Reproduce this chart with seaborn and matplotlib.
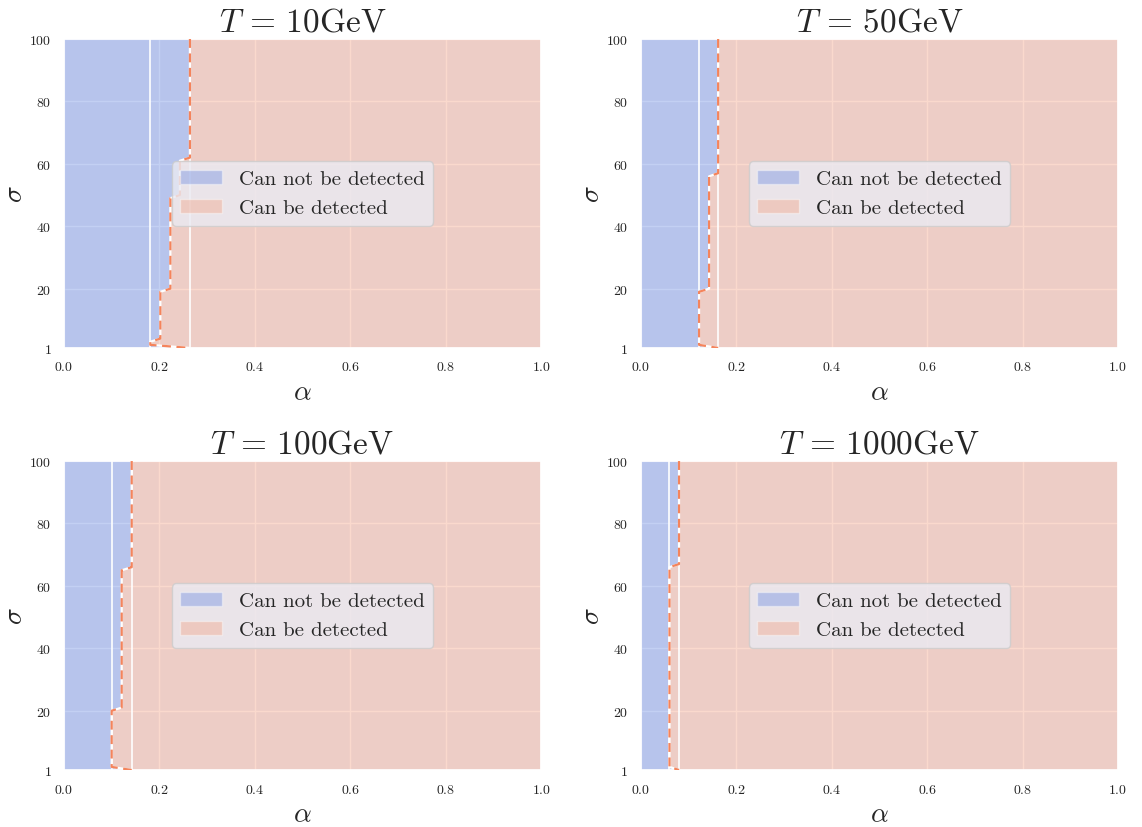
import numpy as np
import matplotlib
matplotlib.use("Agg")
import matplotlib.pyplot as plt
from matplotlib.patches import Patch
import seaborn as sns

# ---- data ----
titles = [r"$T\,=\,10\mathrm{GeV}$", r"$T\,=\,50\mathrm{GeV}$",
          r"$T\,=\,100\mathrm{GeV}$", r"$T\,=\,1000\mathrm{GeV}$"]
# each panel: sigma rows where a new detection threshold (alpha) starts
sigma_start_10 = [1, 2, 4, 20, 50, 62]
alpha_thr_10 = [0.264, 0.181, 0.202, 0.223, 0.243, 0.264]
sigma_start_50 = [1, 2, 20, 57]
alpha_thr_50 = [0.162, 0.122, 0.143, 0.162]
sigma_start_100 = [1, 2, 21, 66]
alpha_thr_100 = [0.142, 0.100, 0.121, 0.142]
sigma_start_1000 = [1, 2, 67]
alpha_thr_1000 = [0.080, 0.060, 0.080]

sigma_starts = [sigma_start_10, sigma_start_50, sigma_start_100, sigma_start_1000]
alpha_thrs = [alpha_thr_10, alpha_thr_50, alpha_thr_100, alpha_thr_1000]

labels = ["Can not be detected", "Can be detected"]
xticks = [0.0, 0.2, 0.4, 0.6, 0.8, 1.0]
yticks = [1, 20, 40, 60, 80, 100]

# sampling grid
alpha_grid = np.linspace(0, 1, 51)
sigma_grid = np.arange(1, 101)

# ---- style ----
sns.set_theme(style="darkgrid")
plt.rcParams["font.family"] = ["serif"]
plt.rcParams["font.serif"] = ["cmr10", "DejaVu Serif"]
plt.rcParams["mathtext.fontset"] = "cm"
plt.rcParams["axes.formatter.use_mathtext"] = True

blue = (107/255, 139/255, 227/255)
red = (244/255, 162/255, 132/255)
fill_alpha = 0.4
line_col = "#f4845c"

fig, axes = plt.subplots(2, 2, figsize=(11.42, 8.28), dpi=100)
fig.subplots_adjust(left=0.056, right=0.979, top=0.9517, bottom=0.0688,
                    wspace=0.209, hspace=0.366)

for ax, title, s_start, a_thr in zip(axes.flat, titles, sigma_starts, alpha_thrs):
    idx = np.searchsorted(s_start, sigma_grid, side="right") - 1
    thr = np.asarray(a_thr)[idx]
    A, S = np.meshgrid(alpha_grid, sigma_grid)
    Z = A - thr[:, None]
    ax.contourf(A, S, Z, levels=[-2, 0, 2], colors=[blue, red], alpha=fill_alpha)
    ax.axvline(min(a_thr), color="white", lw=1.2, zorder=3)
    ax.axvline(max(a_thr), color="white", lw=1.2, zorder=3)
    ax.contour(A, S, Z, levels=[0], colors="white", linewidths=1.6, zorder=4)
    ax.contour(A, S, Z, levels=[0], colors=line_col, linewidths=1.6,
               linestyles=[(0, (4, 2.5))], zorder=5)
    ax.set_xlim(0, 1)
    ax.set_ylim(1, 100)
    ax.set_xticks(xticks)
    ax.set_yticks(yticks)
    ax.tick_params(labelsize=10, pad=3)
    ax.set_xlabel(r"$\alpha$", fontsize=20)
    ax.set_ylabel(r"$\sigma$", fontsize=20, labelpad=1)
    ax.set_title(title, fontsize=24)
    handles = [Patch(facecolor=blue, alpha=fill_alpha, edgecolor="white"),
               Patch(facecolor=red, alpha=fill_alpha, edgecolor="white")]
    ax.legend(handles, labels, loc="center", fontsize=15)

fig.savefig("out.png", dpi=100)
